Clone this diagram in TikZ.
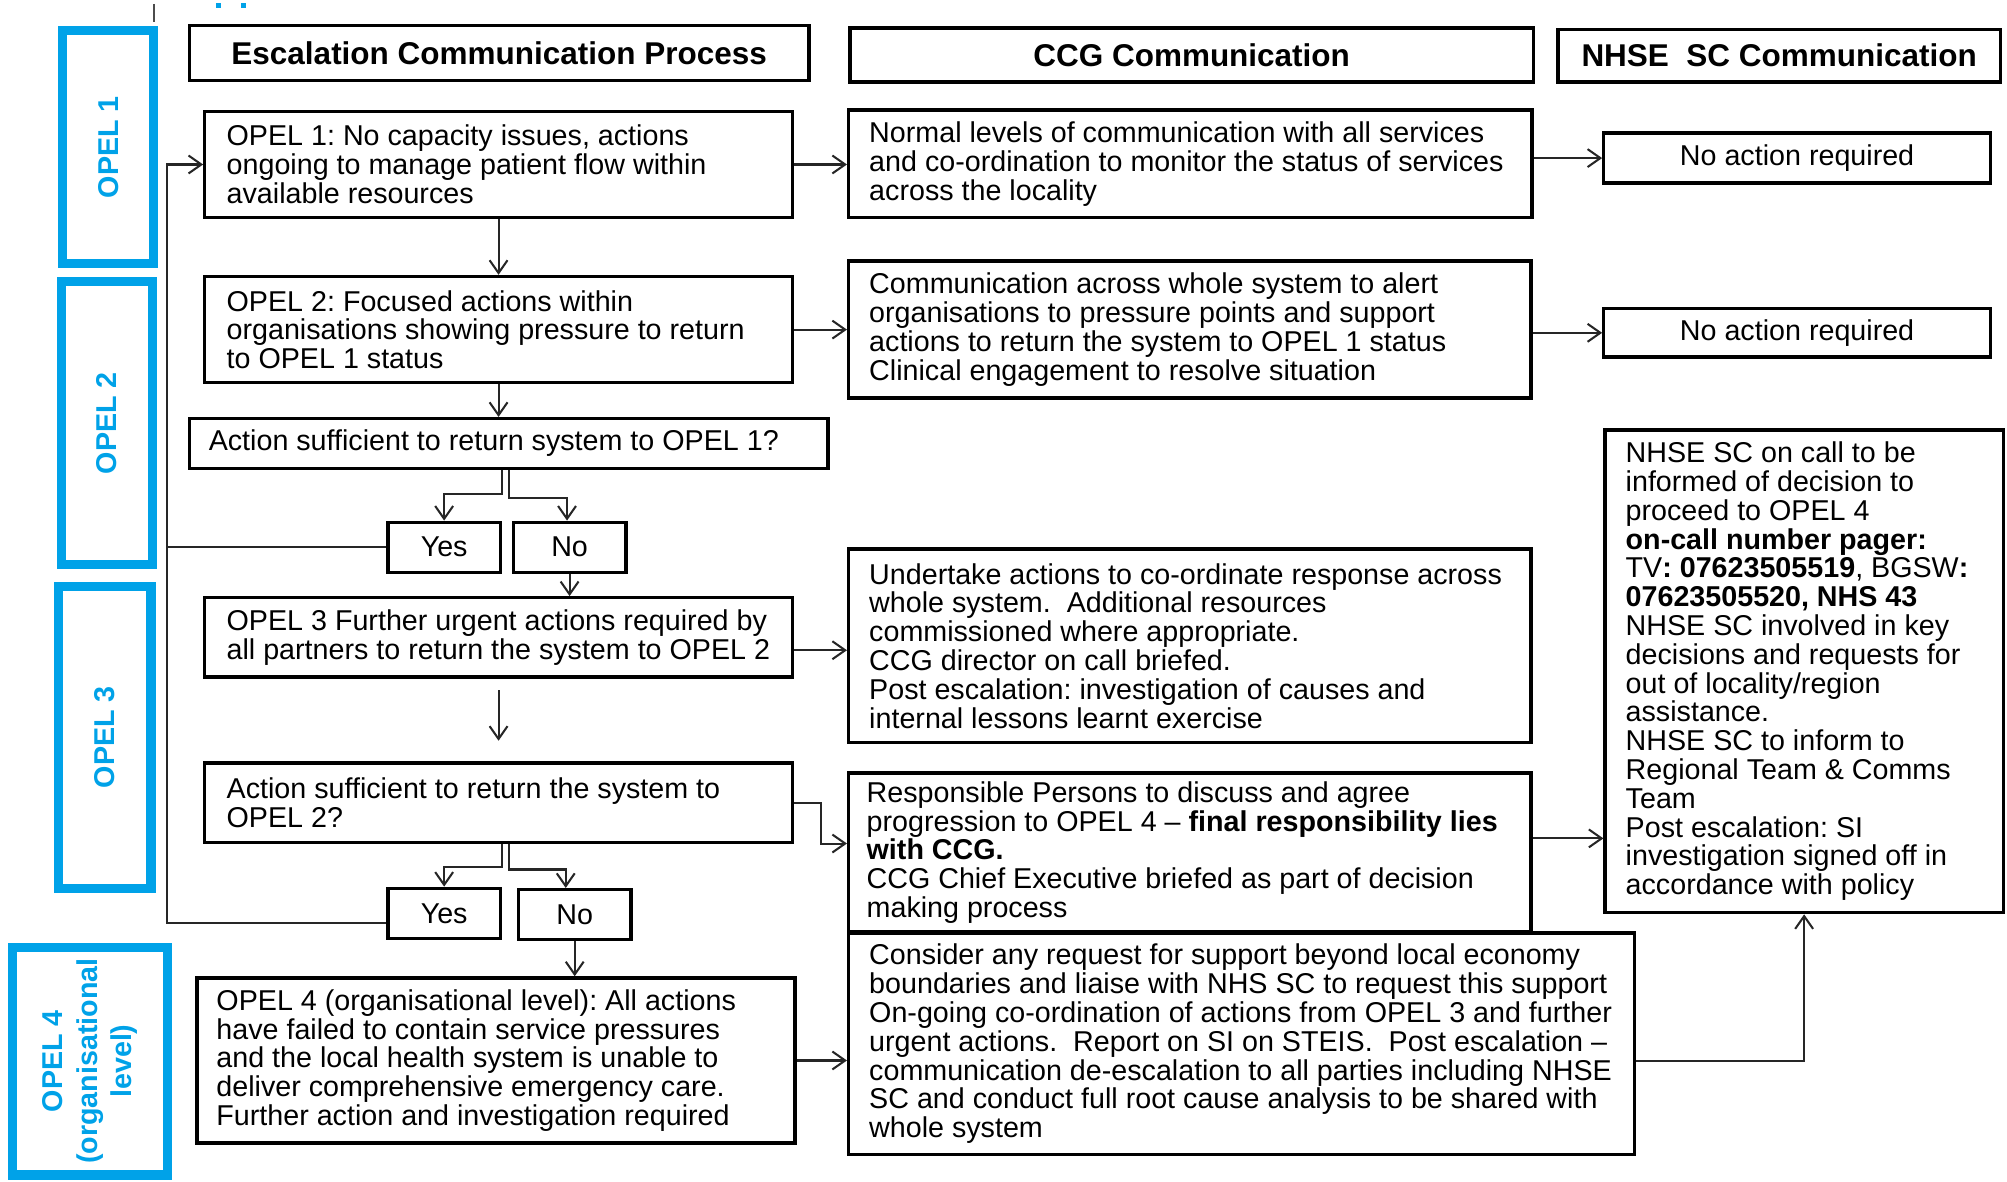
\documentclass[tikz,border=0pt]{standalone}
\usepackage{fontspec}
\setmainfont{Liberation Sans}
\usetikzlibrary{arrows.meta,fit}
\definecolor{opelblue}{RGB}{0,162,232}
\frenchspacing
\begin{document}
\begin{tikzpicture}[x=0.5pt,y=-0.5pt,
  frame/.style={draw=black, line width=1.3pt, inner sep=0pt},
  hdr/.style={frame, line width=1.4pt},
  hdrtxt/.style={inner sep=0pt, font=\fontsize{12.3}{14}\selectfont\bfseries},
  ctxt/.style={inner sep=0pt, font=\fontsize{11.2}{11.25}\selectfont},
  txt/.style={anchor=west, inner sep=0pt, align=left, font=\fontsize{11.2}{11.25}\selectfont},
  lvl/.style={draw=opelblue, line width=3.6pt, inner sep=0pt},
  lvltext/.style={text=opelblue, inner sep=0pt, rotate=90, align=center, font=\fontsize{11.2}{13.5}\selectfont\bfseries},
  conn/.style={line width=0.8pt, draw=black!85},
  arr/.style={conn, -{Straight Barb[length=5pt,width=7pt,line width=0.8pt]}},
]
\useasboundingbox (0,0) rectangle (1568,923);

% stray fragments at the top edge
\coordinate (stubA) at (120.5,3);
\coordinate (stubB) at (120.5,17);
\draw[line width=0.8pt, black!70] (stubA) -- (stubB);
\fill[opelblue] (169,2) rectangle (173,6);
\fill[opelblue] (188,2) rectangle (192,6);

% level boxes
\node[lvl, fit={(49,24) (120,206)}] (o1) {};
\node[lvl, fit={(48,220) (119,441)}] (o2) {};
\node[lvl, fit={(46,458) (118,694)}] (o3) {};
\node[lvl, fit={(10,740) (131,918)}] (o4) {};
\node[lvltext] (o1t) at (o1.center) {OPEL 1};
\node[lvltext] (o2t) at (o2.center) {OPEL 2};
\node[lvltext] (o3t) at (o3.center) {OPEL 3};
\node[lvltext] (o4t) at (o4.center) {OPEL 4\\(organisational\\level)};

% headers
\node[hdr, fit={(148,20) (632,63)}] (h1) {};
\node[hdrtxt] (h1t) at (h1.center) {Escalation Communication Process};
\node[hdr, fit={(664,22) (1198,64)}] (h2) {};
\node[hdrtxt] (h2t) at (h2.center) {CCG Communication};
\node[hdr, fit={(1217,23) (1563,64)}] (h3) {};
\node[hdrtxt] (h3t) at (h3.center) {NHSE\ \ SC Communication};

% process column
\node[frame, fit={(160,87) (619,170)}] (b1) {};
\node[txt] (b1t) at ([xshift=9pt]b1.west) {OPEL 1: No capacity issues, actions\\ongoing to manage patient flow within\\available resources};
\node[frame, fit={(160,216) (619,299)}] (b2) {};
\node[txt] (b2t) at ([xshift=9pt]b2.west) {OPEL 2: Focused actions within\\organisations showing pressure to return\\to OPEL 1 status};
\node[frame, fit={(148,327) (647,366)}] (q1) {};
\node[txt] (q1t) at ([xshift=8pt]q1.west) {Action sufficient to return system to OPEL 1?};
\node[frame, fit={(303,408) (391,447)}] (yes1) {};
\node[ctxt] (yes1t) at (yes1.center) {Yes};
\node[frame, fit={(401,408) (489,447)}] (no1) {};
\node[ctxt] (no1t) at (no1.center) {No};
\node[frame, fit={(160,467) (619,529)}] (b3) {};
\node[txt] (b3t) at ([xshift=9pt]b3.west) {OPEL 3 Further urgent actions required by\\all partners to return the system to OPEL 2};
\node[frame, fit={(160,596) (619,658)}] (q2) {};
\node[txt] (q2t) at ([xshift=9pt]q2.west) {Action sufficient to return the system to\\OPEL 2?};
\node[frame, fit={(303,694) (391,733)}] (yes2) {};
\node[ctxt] (yes2t) at (yes2.center) {Yes};
\node[frame, fit={(405,695) (493,734)}] (no2) {};
\node[ctxt] (no2t) at (no2.center) {No};
\node[frame, fit={(154,764) (621,893)}] (b4) {};
\node[txt] (b4t) at ([xshift=8pt]b4.west) {OPEL 4 (organisational level): All actions\\have failed to contain service pressures\\and the local health system is unable to\\deliver comprehensive emergency care.\\Further action and investigation required};

% CCG column
\node[frame, fit={(663,86) (1197,170)}] (c1) {};
\node[txt] (c1t) at ([xshift=8.5pt]c1.west) {Normal levels of communication with all services\\and co-ordination to monitor the status of services\\across the locality};
\node[frame, fit={(663,204) (1196,311)}] (c2) {};
\node[txt] (c2t) at ([xshift=8.5pt]c2.west) {Communication across whole system to alert\\organisations to pressure points and support\\actions to return the system to OPEL 1 status\\Clinical engagement to resolve situation};
\node[frame, fit={(663,429) (1196,580)}] (c3) {};
\node[txt] (c3t) at ([xshift=8.5pt]c3.west) {Undertake actions to co-ordinate response across\\whole system.\ \ Additional resources\\commissioned where appropriate.\\CCG director on call briefed.\\Post escalation: investigation of causes and\\internal lessons learnt exercise};
\node[frame, fit={(663,604) (1196,728)}] (c4) {};
\node[txt] (c4t) at ([xshift=7.5pt]c4.west) {Responsible Persons to discuss and agree\\progression to OPEL 4 -- \textbf{final responsibility lies}\\\textbf{with CCG.}\\CCG Chief Executive briefed as part of decision\\making process};
\node[frame, fit={(663,729) (1277,902)}] (c5) {};
\node[txt] (c5t) at ([xshift=8.5pt]c5.west) {Consider any request for support beyond local economy\\boundaries and liaise with NHS SC to request this support\\On-going co-ordination of actions from OPEL 3 and further\\urgent actions.\ \ Report on SI on STEIS.\ \ Post escalation --\\communication de-escalation to all parties including NHSE\\SC and conduct full root cause analysis to be shared with\\whole system};

% NHSE column
\node[frame, fit={(1253,104) (1555,143)}] (n1) {};
\node[ctxt] (n1t) at (n1.center) {No action required};
\node[frame, fit={(1253,241) (1555,279)}] (n2) {};
\node[ctxt] (n2t) at (n2.center) {No action required};
\node[frame, fit={(1254,336) (1565,713)}] (n3) {};
\node[txt] (n3t) at ([xshift=8.5pt]n3.west) {NHSE SC on call to be\\informed of decision to\\proceed to OPEL 4\\\textbf{on-call number pager:}\\TV\textbf{: 07623505519}, BGSW\textbf{:}\\\textbf{07623505520, NHS 43}\\NHSE SC involved in key\\decisions and requests for\\out of locality/region\\assistance.\\NHSE SC to inform to\\Regional Team \& Comms\\Team\\Post escalation: SI\\investigation signed off in\\accordance with policy};

% connectors
\coordinate (loopx) at ([xshift=-14pt]b1.west);
\draw[arr] (b1.east) -- (b1.east -| c1.west);
\draw[arr] (n1.west -| c1.east) -- (n1.west);
\draw[arr] (b1.south) -- (b2.north);
\draw[arr] (b2.east) -- (b2.east -| c2.west);
\draw[arr] (n2.west -| c2.east) -- (n2.west);
\draw[arr] (b2.south) -- (b2.south |- q1.north);
\draw[arr] ([xshift=-2.75pt]q1.south) -- ++(0,19) -| (yes1.north);
\draw[arr] ([xshift=0.25pt]q1.south) -- ++(0,22) -| ([xshift=-1pt]no1.north);
\draw[arr] (no1.south) -- (no1.south |- b3.north);
\draw[conn] (yes1.west) -- (yes1.west -| loopx);
\draw[arr] ([yshift=-3.75pt]yes2.west) -| (loopx) -- (b1.west);
\draw[arr] ([yshift=-5pt]b3.east) -- ([yshift=-5pt]b3.east -| c3.west);
\draw[arr] ([yshift=-4.5pt]b3.south) -- ([yshift=8pt]q2.north);
\draw[arr] (q2.east) -- ++(21,0) |- ([yshift=3.5pt]c4.west);
\draw[arr] ([xshift=1.25pt]q2.south) -- ++(0,18) -| (yes2.north);
\draw[arr] ([xshift=4.25pt]q2.south) -- ++(0,20) -| ([xshift=-3.5pt]no2.north);
\draw[arr] (no2.south) -- (no2.south |- b4.north);
\draw[arr] (b4.east) -- (b4.east -| c5.west);
\draw[arr] ([yshift=5.5pt]c4.east) -- ([yshift=5.5pt]c4.east -| n3.west);
\draw[arr] ([yshift=-6.75pt]c5.east) -| (n3.south);
\end{tikzpicture}
\end{document}
